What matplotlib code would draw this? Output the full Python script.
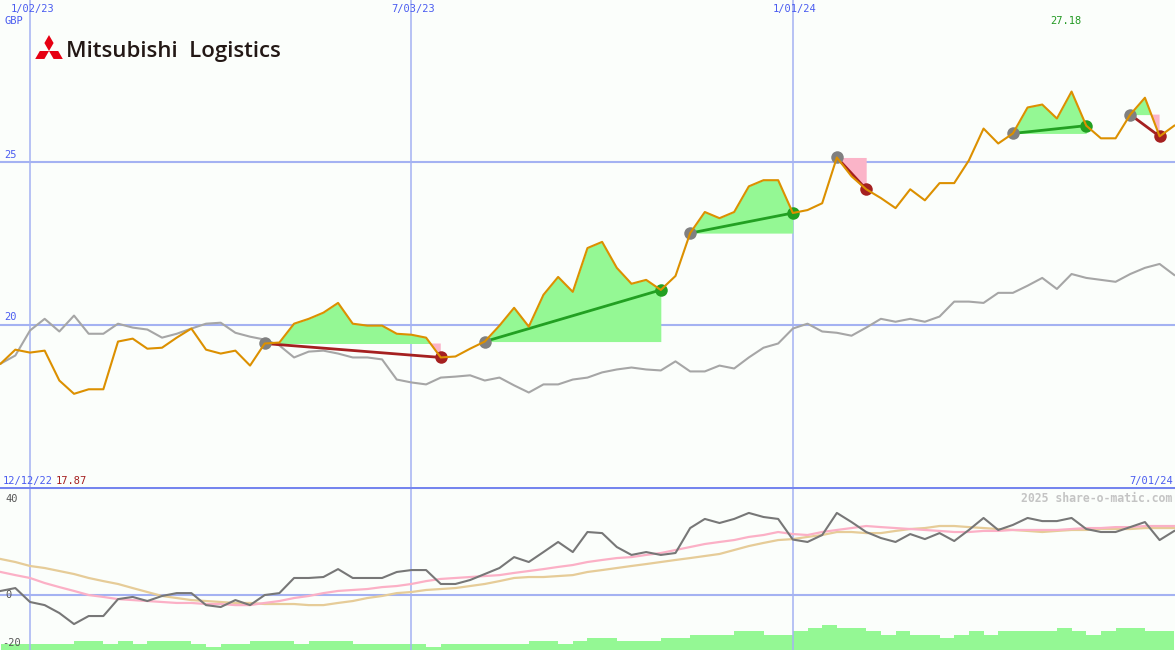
import numpy as np
import matplotlib
matplotlib.use("Agg")
import matplotlib.pyplot as plt
from matplotlib.patches import Polygon

# weekly data, week index counted from 1/02/23
weeks = np.arange(-2, 79)

price = [18.80, 19.23, 19.14, 19.20, 18.28, 17.87, 18.01, 18.01, 19.48, 19.57,
         19.26, 19.29, 19.60, 19.88, 19.23, 19.11, 19.20, 18.74, 19.42, 19.45,
         20.03, 20.18, 20.37, 20.67, 20.03, 19.97, 19.97, 19.72, 19.69, 19.60,
         18.99, 19.02, 19.26, 19.48, 19.97, 20.52, 19.94, 20.92, 21.47, 21.01,
         22.36, 22.55, 21.75, 21.26, 21.38, 21.07, 21.50, 22.82, 23.47, 23.28,
         23.47, 24.26, 24.45, 24.45, 23.44, 23.53, 23.74, 25.15, 24.57, 24.17,
         23.90, 23.59, 24.17, 23.83, 24.36, 24.36, 25.06, 26.04, 25.58, 25.89,
         26.69, 26.78, 26.35, 27.18, 26.13, 25.74, 25.74, 26.47, 26.99, 25.80,
         26.13]

index_rel = [18.80, 19.05, 19.82, 20.18, 19.79, 20.28, 19.72, 19.72, 20.03, 19.91,
             19.85, 19.60, 19.72, 19.88, 20.03, 20.06, 19.75, 19.63, 19.54, 19.36,
             18.99, 19.17, 19.20, 19.11, 18.99, 18.99, 18.93, 18.31, 18.22, 18.16,
             18.37, 18.40, 18.44, 18.28, 18.37, 18.13, 17.91, 18.16, 18.16, 18.31,
             18.37, 18.53, 18.62, 18.68, 18.62, 18.59, 18.87, 18.56, 18.56, 18.74,
             18.65, 18.99, 19.29, 19.42, 19.88, 20.03, 19.79, 19.75, 19.66, 19.91,
             20.18, 20.09, 20.18, 20.09, 20.25, 20.71, 20.71, 20.67, 20.98, 20.98,
             21.20, 21.44, 21.10, 21.56, 21.44, 21.38, 21.32, 21.56, 21.75, 21.87,
             21.53]

momentum = [1.7, 2.9, -2.9, -4.2, -7.5, -12.1, -8.75, -8.75, -1.7, -0.8,
            -2.5, -0.4, 0.8, 0.8, -4.2, -5.0, -2.1, -4.2, 0.0, 0.8,
            7.1, 7.1, 7.5, 10.8, 7.1, 7.1, 7.1, 9.6, 10.4, 10.4,
            4.6, 4.6, 6.25, 8.75, 11.25, 15.8, 13.75, 17.9, 22.1, 17.9,
            26.25, 25.8, 20.0, 16.7, 17.9, 16.7, 17.5, 27.9, 31.7, 30.0,
            31.7, 34.2, 32.5, 31.7, 23.1, 22.1, 25.0, 34.2, 30.4, 26.25,
            23.75, 22.1, 25.4, 23.3, 25.8, 22.5, 27.1, 32.1, 27.1, 29.2,
            32.1, 30.8, 30.8, 32.1, 27.5, 26.25, 26.25, 28.3, 30.4, 22.9,
            26.7]

mom_fast = [9.6, 8.3, 7.1, 5.0, 3.3, 1.7, 0.0, -0.8, -1.7, -2.1,
            -2.5, -2.9, -3.3, -3.3, -3.75, -3.75, -4.2, -4.2, -3.3, -2.5,
            -1.25, -0.4, 0.8, 1.7, 2.1, 2.5, 3.3, 3.75, 4.6, 5.8,
            6.7, 7.1, 7.5, 7.9, 8.3, 9.2, 10.0, 10.8, 11.7, 12.5,
            13.75, 14.6, 15.4, 15.8, 16.7, 17.5, 18.75, 20.0, 21.25, 22.1,
            22.9, 24.2, 25.0, 26.25, 25.4, 25.0, 26.25, 27.1, 27.9, 28.75,
            28.3, 27.9, 27.5, 27.1, 26.7, 26.25, 26.25, 26.7, 26.7, 27.1,
            27.1, 27.1, 27.1, 27.5, 27.9, 27.9, 28.3, 28.3, 28.75, 28.75,
            28.75]

mom_slow = [15.0, 13.75, 12.1, 11.25, 10.0, 8.75, 7.1, 5.8, 4.6, 2.9,
            1.25, -0.4, -1.25, -2.1, -2.5, -2.9, -3.3, -3.3, -3.75, -3.75,
            -3.75, -4.2, -4.2, -3.3, -2.5, -1.25, -0.4, 0.8, 1.25, 2.1,
            2.5, 2.9, 3.75, 4.6, 5.8, 7.1, 7.5, 7.5, 7.9, 8.3,
            9.6, 10.4, 11.25, 12.1, 12.9, 13.75, 14.6, 15.4, 16.25, 17.1,
            18.75, 20.4, 21.7, 22.9, 23.3, 24.2, 25.0, 26.25, 26.25, 25.8,
            25.8, 26.7, 27.5, 27.9, 28.75, 28.75, 28.3, 27.9, 27.5, 27.1,
            26.7, 26.25, 26.7, 27.1, 27.1, 27.5, 27.5, 27.5, 27.9, 27.9,
            27.9]

# one bar per week, k = -2 .. 77
volume = [6, 6, 6, 6, 6, 9, 9, 6, 9, 6,
          9, 9, 9, 6, 3, 6, 6, 9, 9, 9,
          6, 9, 9, 9, 6, 6, 6, 6, 6, 3,
          6, 6, 6, 6, 6, 6, 9, 9, 6, 9,
          12, 12, 9, 9, 9, 12, 12, 15, 15, 15,
          19, 19, 15, 15, 19, 22, 25, 22, 22, 19,
          15, 19, 15, 15, 12, 15, 19, 15, 19, 19,
          19, 19, 22, 19, 15, 19, 22, 22, 19, 19]

# (entry week, exit week)
trades = [(16, 28), (31, 43), (45, 52), (55, 57), (67, 72), (75, 77)]

date_weeks = [0, 26, 52]
date_labels = ["1/02/23", "7/03/23", "1/01/24"]
price_ticks = [20, 25]

BG = "#fbfefb"
GRID = "#a4b2f2"
BLUE_TXT = "#4a5cf0"
ORANGE = "#dc9000"
GREEN_FILL = "#94f894"
PINK_FILL = "#fbb4c8"
WIN = "#22a022"
LOSS = "#a52020"
MONO = "DejaVu Sans Mono"

price = np.array(price)
fig = plt.figure(figsize=(11.75, 6.5), dpi=100, facecolor=BG)
ax1 = fig.add_axes([0, 163 / 650, 1, 487 / 650], facecolor=BG)
ax2 = fig.add_axes([0, 0, 1, 163 / 650], facecolor="none")
axv = fig.add_axes([0, 0, 1, 163 / 650], facecolor=BG)
axv.set_zorder(0)
ax2.set_zorder(1)
ax1.set_zorder(2)

xlim = (-2.045, 78.05)
for ax in (ax1, ax2, axv):
    ax.set_xlim(*xlim)
    ax.set_xticks([])
    ax.set_yticks([])
    for s in ax.spines.values():
        s.set_visible(False)

# ---- top panel ----
ax1.set_ylim(15, 30)
for p in price_ticks:
    ax1.axhline(p, color=GRID, lw=1.5, zorder=1)
    ax1.text(-1.75, p + 0.08, str(p), color=BLUE_TXT, fontsize=7.5,
             family=MONO, va="bottom", ha="left")
for w in date_weeks:
    ax1.axvline(w, color=GRID, lw=1.1, zorder=1)
    ax2.axvline(w, color=GRID, lw=1.1, zorder=1)

ax1.plot(weeks, index_rel, color="#a6a6a6", lw=1.5, zorder=2)

for e, x in trades:
    i0, i1 = e + 2, x + 2
    wx = weeks[i0:i1 + 1]
    px = price[i0:i1 + 1]
    lvl = price[i0]
    ax1.fill_between(wx, px, lvl, where=px >= lvl, interpolate=True,
                     color=GREEN_FILL, lw=0, zorder=3)
    ax1.fill_between(wx, px, lvl, where=px <= lvl, interpolate=True,
                     color=PINK_FILL, lw=0, zorder=3)
    col = WIN if price[i1] > lvl else LOSS
    ax1.plot([e, x], [lvl, price[i1]], color=col, lw=2, zorder=4)
    ax1.plot(e, lvl, "o", color="#808080", ms=9, mew=0, zorder=5)
    ax1.plot(x, price[i1], "o", color=col, ms=9, mew=0, zorder=5)

ax1.plot(weeks, price, color=ORANGE, lw=1.5, zorder=6)

# labels on the top panel
for w, lab in zip(date_weeks, date_labels):
    ax1.text(w + 0.15, 0.991, lab, transform=ax1.get_xaxis_transform(),
             color=BLUE_TXT, fontsize=7.5, family=MONO, ha="center", va="top")
ax1.text(0.004, 0.956, "GBP", transform=ax1.transAxes, color=BLUE_TXT,
         fontsize=7.5, family=MONO, ha="left", va="center")
imax = int(np.argmax(price))
ax1.text(weeks[imax] - 0.4, 0.956, f"{price.max():.2f}", transform=ax1.get_xaxis_transform(),
         color="#229922", fontsize=7.5, family=MONO, ha="center", va="center")
ax1.text(0.002, 0.003, "12/12/22", transform=ax1.transAxes, color=BLUE_TXT,
         fontsize=7.5, family=MONO, ha="left", va="bottom")
ax1.text(0.047, 0.003, f"{price.min():.2f}", transform=ax1.transAxes, color=LOSS,
         fontsize=7.5, family=MONO, ha="left", va="bottom")
ax1.text(0.998, 0.003, "7/01/24", transform=ax1.transAxes, color=BLUE_TXT,
         fontsize=7.5, family=MONO, ha="right", va="bottom")

# ---- bottom panel ----
ax2.set_ylim(-22.9, 45)
ax2.axhline(0, color=GRID, lw=1.5, zorder=1)
ax2.axhline(45, color="#7585ee", lw=2.2, zorder=6, clip_on=False)
ax2.plot(weeks, mom_slow, color="#e6cc98", lw=1.6, zorder=2)
ax2.plot(weeks, mom_fast, color="#fbb0c6", lw=1.6, zorder=2)
ax2.plot(weeks, momentum, color="#777777", lw=1.5, zorder=3)
for v in (40, 0, -20):
    ax2.text(-1.9 if v < 0 else -1.7, v, str(v), color="#555555", fontsize=7.5,
             family=MONO, ha="left", va="center")
ax2.text(0.998, 0.93, "2025 share-o-matic.com", transform=ax2.transAxes,
         color="#c4c4c4", fontsize=8.3, family=MONO, fontweight="bold",
         ha="right", va="center")

axv.set_ylim(0, 163)
axv.bar(weeks[:-1], volume, width=1.0, align="edge", color="#94f894", lw=0)

# ---- logo ----
axl = fig.add_axes([0, 0, 1, 1], facecolor="none")
axl.set_xlim(0, 1175)
axl.set_ylim(650, 0)
axl.axis("off")
axl.set_zorder(3)
cx, cy, a = 49.0, 51.0, 9.2
for th in (90, 210, 330):
    t1, t2 = np.radians(th - 30), np.radians(th + 30)
    e1 = np.array([np.cos(t1), -np.sin(t1)])
    e2 = np.array([np.cos(t2), -np.sin(t2)])
    c = np.array([cx, cy])
    pts = [c, c + a * e1, c + a * (e1 + e2), c + a * e2]
    axl.add_patch(Polygon(pts, closed=True, color="#e60012", lw=0))
axl.text(66, 51, "Mitsubishi  Logistics", color="#231815", fontsize=16,
         family="Open Sans", fontweight="semibold", ha="left", va="center")

fig.savefig("out.png", dpi=100, facecolor=BG)
